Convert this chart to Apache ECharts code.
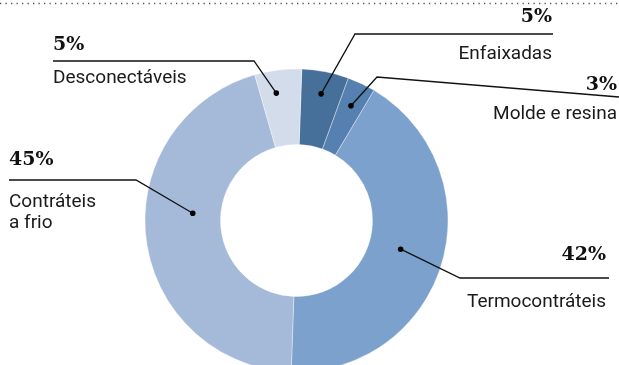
<!DOCTYPE html>
<html>
<head>
<meta charset="utf-8">
<script src="https://cdn.jsdelivr.net/npm/echarts@6/dist/echarts.min.js"></script>
<style>
  html, body { margin: 0; padding: 0; background: #ffffff; }
  #chart { width: 619px; height: 365px; }
</style>
</head>
<body>
<div id="chart"></div>
<script>
// Market share by cable accessory type (%)
const categories = ['Enfaixadas', 'Molde e resina', 'Termocontráteis', 'Contráteis a frio', 'Desconectáveis'];
const shares = [5, 3, 42, 45, 5];
const nameLines = ['Enfaixadas', 'Molde e resina', 'Termocontráteis', 'Contráteis\na frio', 'Desconectáveis'];
const sliceColors = ['#466f99', '#5680af', '#7ba1cc', '#a5b9d9', '#d3dcea'];

// Donut geometry (pixels)
const CX = 296.5, CY = 220.5, R_IN = 76, R_OUT = 151.5;
const START_ANGLE = 88; // ECharts degrees, counter-clockwise from 3 o'clock

// Callout styling: where each dot sits inside its slice, the leader elbow/end, and text anchors
const callouts = [
  { dotR: 129, nudge: 0,   elbow: [355, 34],  end: [553, 34],  align: 'right', tx: 552, pctBase: 27,  nameBase: 60 },
  { dotR: 127, nudge: 0,   elbow: [377, 77],  end: [619, 97],  align: 'right', tx: 617, pctBase: 95,  nameBase: 120 },
  { dotR: 108, nudge: -1,  elbow: [460, 278], end: [609, 278], align: 'right', tx: 606, pctBase: 265, nameBase: 308 },
  { dotR: 104, nudge: 11,  elbow: [136, 180], end: [9, 180],   align: 'left',  tx: 9,   pctBase: 170, nameBase: 208 },
  { dotR: 129, nudge: -2,  elbow: [254, 61],  end: [53, 61],   align: 'left',  tx: 53,  pctBase: 55,  nameBase: 84 }
];

const chart = echarts.init(document.getElementById('chart'), null, { renderer: 'canvas' });

// Slice mid-angles, clockwise from 12 o'clock, derived from the shares
const total = shares.reduce((a, b) => a + b, 0);
const topOffset = 90 - START_ANGLE;
let cum = 0;
const graphics = [];

// dotted rule across the top
graphics.push({
  type: 'line',
  shape: { x1: 0, y1: 3.5, x2: 619, y2: 3.5 },
  style: { stroke: '#555', lineWidth: 1.3, lineDash: [1.3, 4.2] },
  silent: true
});

shares.forEach((v, i) => {
  const a0 = topOffset + cum / total * 360;
  cum += v;
  const a1 = topOffset + cum / total * 360;
  const c = callouts[i];
  const mid = ((a0 + a1) / 2 + c.nudge) * Math.PI / 180;
  const dx = CX + c.dotR * Math.sin(mid);
  const dy = CY - c.dotR * Math.cos(mid);

  graphics.push({
    type: 'polyline',
    shape: { points: [[dx, dy], c.elbow, c.end] },
    style: { stroke: '#111', lineWidth: 1.3, fill: null },
    z: 10, silent: true
  });
  graphics.push({
    type: 'circle',
    shape: { cx: dx, cy: dy, r: 2.8 },
    style: { fill: '#000' },
    z: 11, silent: true
  });
  graphics.push({
    type: 'text',
    x: c.tx, y: c.pctBase,
    style: {
      text: v + '%',
      font: 'bold 19px "DejaVu Serif"',
      fill: '#111',
      align: c.align,
      verticalAlign: 'bottom'
    },
    z: 10, silent: true
  });
  const lines = nameLines[i].split('\n');
  lines.forEach((ln, k) => {
    graphics.push({
      type: 'text',
      x: c.tx, y: c.nameBase + k * 21 + 4,
      style: {
        text: ln,
        font: '19px Roboto',
        fill: '#1a1a1a',
        align: c.align,
        verticalAlign: 'bottom'
      },
      z: 10, silent: true
    });
  });
});

chart.setOption({
  animation: false,
  backgroundColor: '#ffffff',
  series: [{
    type: 'pie',
    center: [CX, CY],
    radius: [R_IN, R_OUT],
    startAngle: START_ANGLE,
    clockwise: true,
    label: { show: false },
    labelLine: { show: false },
    emphasis: { disabled: true },
    itemStyle: { borderColor: 'rgba(255,255,255,0.6)', borderWidth: 0.6 },
    data: categories.map((name, i) => ({
      name: name,
      value: shares[i],
      itemStyle: { color: sliceColors[i] }
    }))
  }],
  graphic: graphics
});
</script>
</body>
</html>
